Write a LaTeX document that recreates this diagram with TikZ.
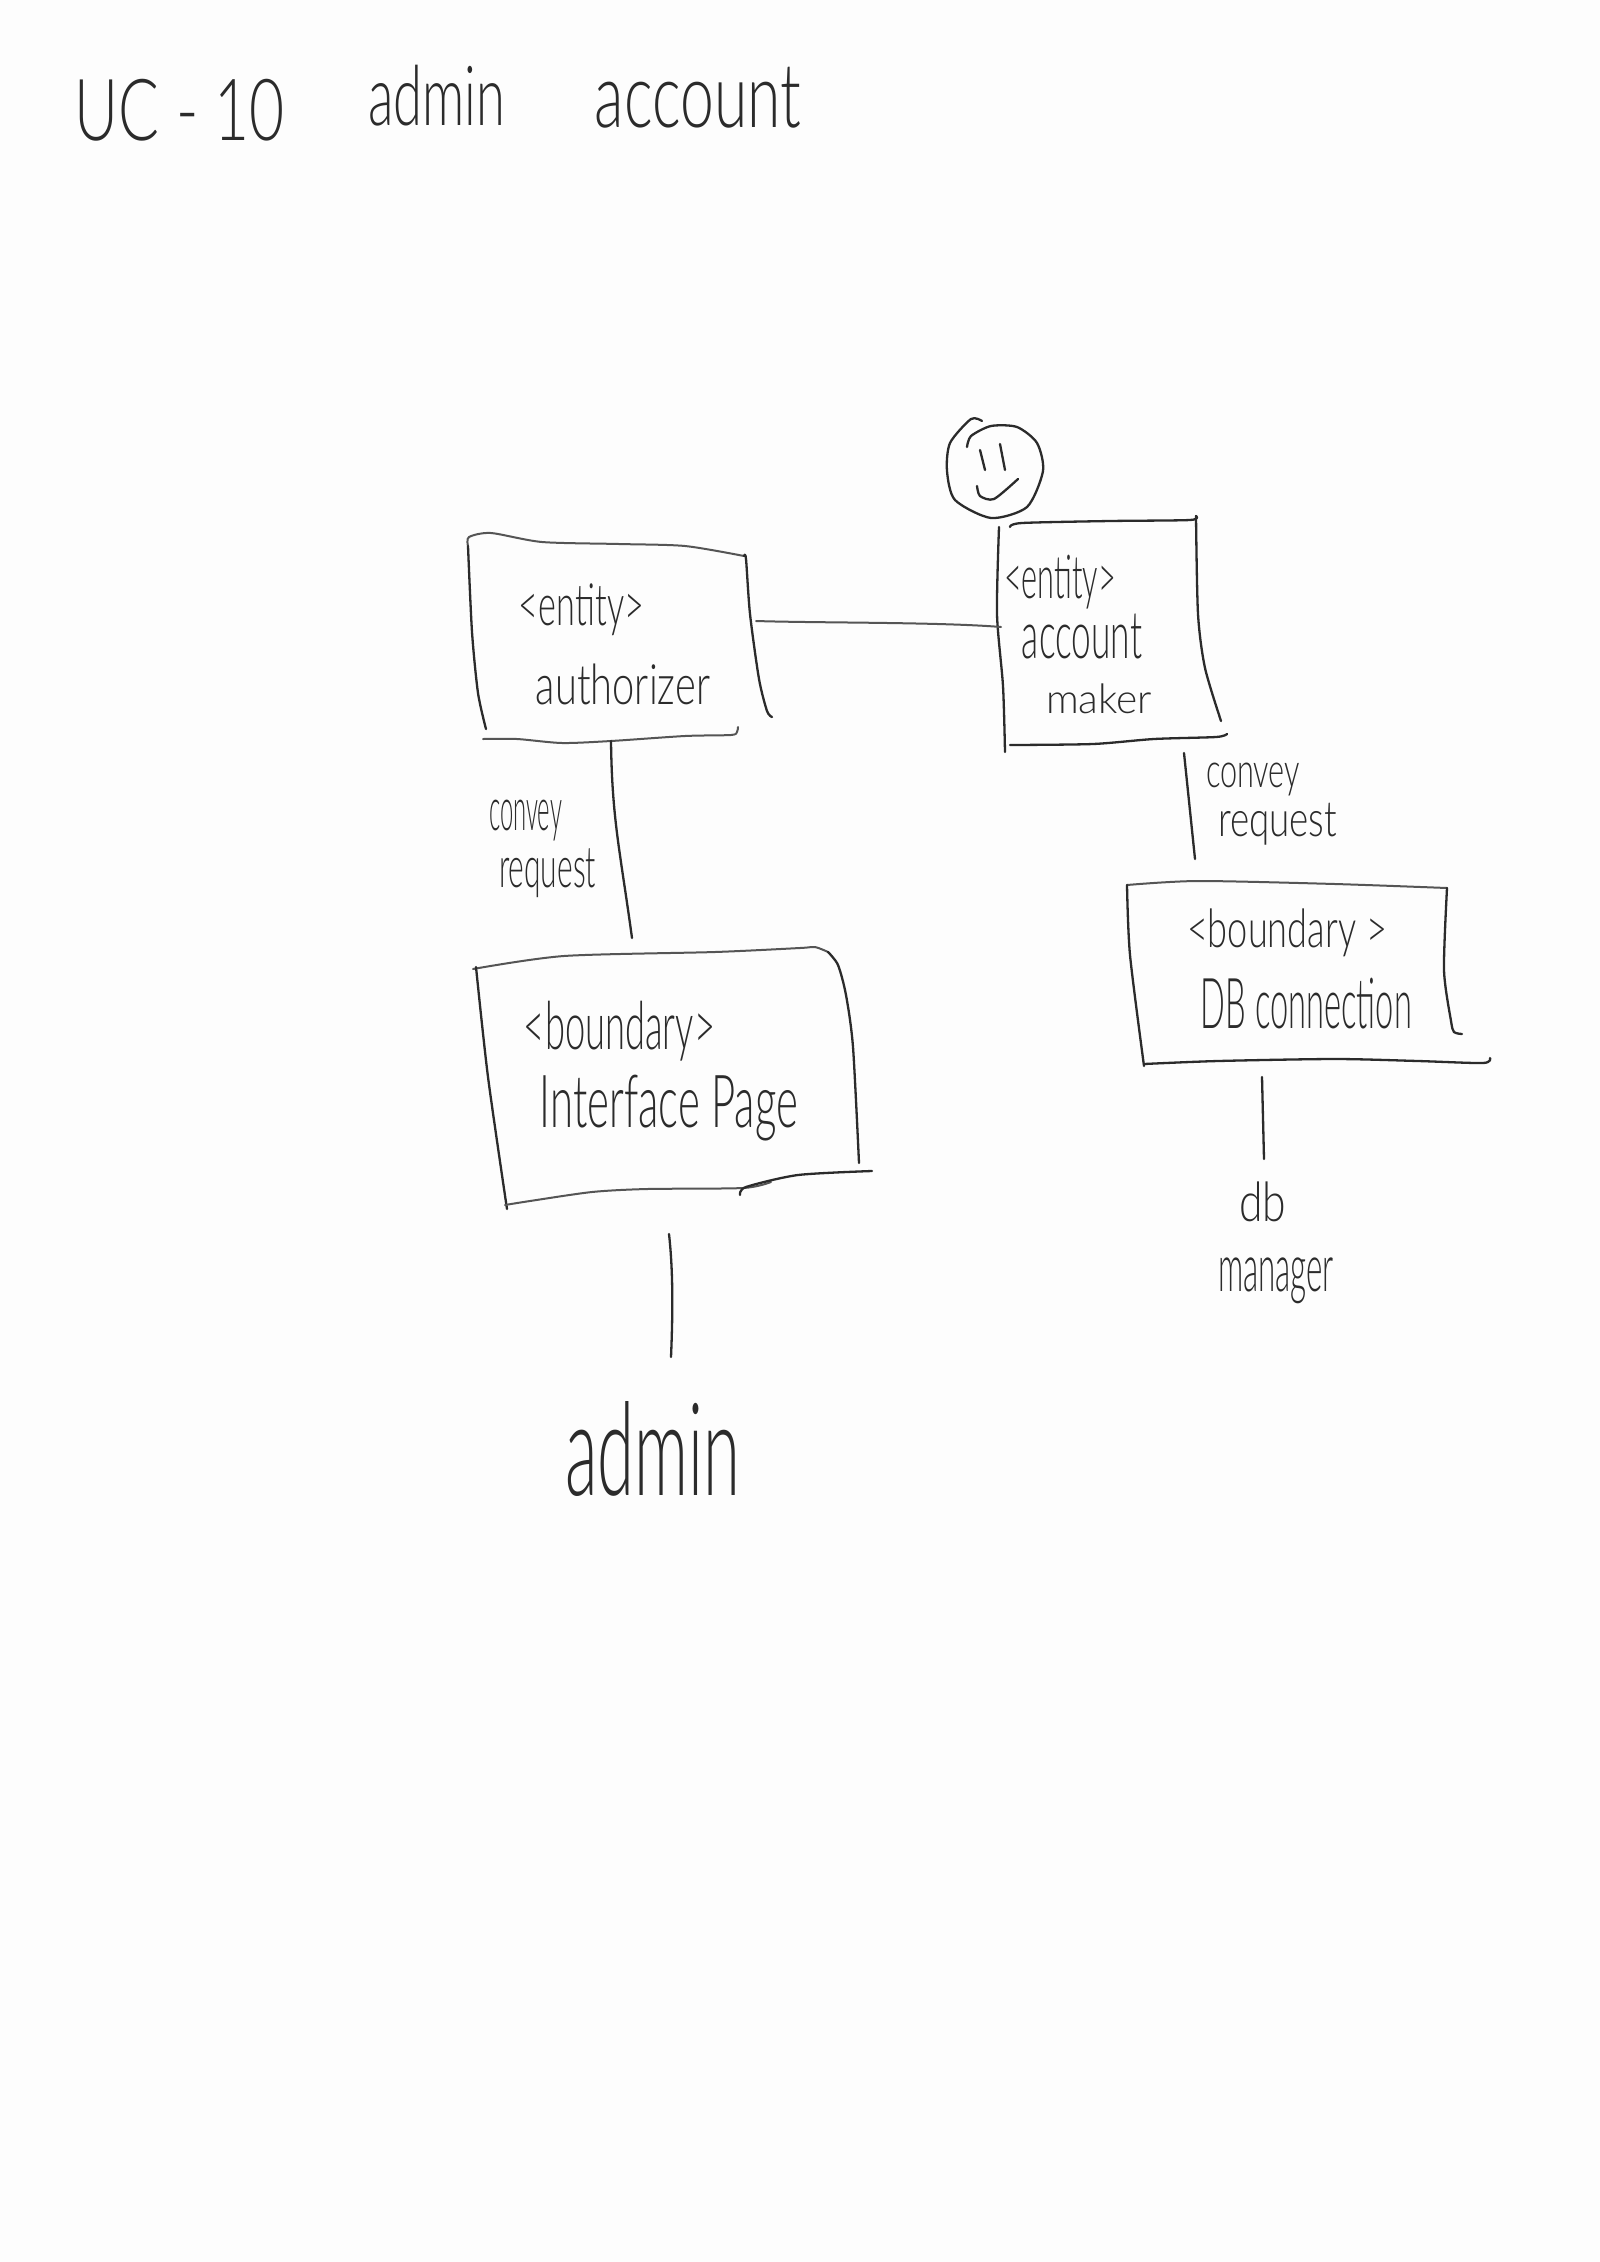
\documentclass[tikz,border=0pt]{standalone}
\usepackage{fontspec}
\usepackage{graphicx}
\setmainfont{Lato Light}
\definecolor{ink}{HTML}{2B2B2B}
\definecolor{inkgrey}{HTML}{555555}
\definecolor{paper}{HTML}{FDFDFD}
\tikzset{
  pen/.style={draw=ink,line width=2.3pt,line cap=round,line join=round},
  palepen/.style={draw=inkgrey,line width=2pt,line cap=round,line join=round},
  inktext/.style={inner sep=0pt,outer sep=0pt,text=ink}
}
\newcommand{\hw}[7][]{%
  \pgfmathsetmacro\hwx{(#3+#5)/2}\pgfmathsetmacro\hwy{(#4+#6)/2}%
  \pgfmathsetmacro\hww{#5-#3}\pgfmathsetmacro\hwh{#6-#4}%
  \node[inktext,#1] (#2) at (\hwx,\hwy) {\resizebox*{\hww pt}{\hwh pt}{#7}};}
\newcommand{\stroke}[2][pen]{\draw[#1] plot[smooth,tension=0.45] coordinates {#2};}
\begin{document}
\begin{tikzpicture}[x=1pt,y=-1pt]
\useasboundingbox (0,0) rectangle (1600,2262);
\fill[paper] (0,0) rectangle (1600,2262);

% title
\hw{titleA}{75}{79}{285}{141}{UC - 10}
\hw{titleB}{368}{65}{505}{126}{admin}
\hw{titleC}{595}{67}{801}{128}{account}

% authorizer box
\stroke[palepen]{(468,546) (469,537) (491,533) (542,542) (619,544) (685,546) (744,556)}
\stroke{(744,556) (746,559) (750,614) (759,679) (767,711) (772,717)}
\stroke{(468,546) (472,632) (478,693) (486,729)}
\stroke[palepen]{(483,739) (517,739) (562,743) (611,741) (685,736) (731,735) (737,732) (738,727)}
\hw{authA}{519}{584}{644}{636}{<entity>}
\hw{authB}{536}{664}{710}{705}{authorizer}

% account maker box and smiley
\stroke{(999,527) (997,614) (1003,686) (1005,752)}
\stroke{(1010,527) (1022,523) (1110,521) (1190,520) (1196,516)}
\stroke{(1196,516) (1198,614) (1205,668) (1221,721)}
\stroke{(1010,745) (1093,744) (1154,739) (1216,737) (1227,734)}
\hw{makerA}{1004}{555}{1116}{609}{<entity>}
\hw{makerB}{1022}{614}{1142}{659}{account}
\hw{makerC}{1046}{684}{1152}{714}{maker}
\stroke{(982,421) (971,419) (950,443) (947,471) (955,500) (991,518) (1027,507) (1043,471) (1037,443) (1017,427) (991,426) (971,436) (967,447)}
\stroke{(980,450) (985,470)}
\stroke{(1000,444) (1005,470)}
\stroke{(977,486) (980,496) (994,499) (1018,479)}

% interface page box
\stroke[palepen]{(473,969) (564,956) (715,952) (800,948) (815,947) (828,952)}
\stroke{(828,952) (838,965) (846,995) (853,1047) (859,1163)}
\stroke{(476,967) (488,1077) (507,1209)}
\stroke[palepen]{(505,1205) (530,1201) (592,1192) (647,1189) (743,1188) (771,1182)}
\stroke{(740,1195) (746,1187) (798,1175) (872,1171)}
\hw{ifaceA}{524}{1001}{715}{1061}{<boundary>}
\hw{ifaceB}{540}{1075}{798}{1141}{Interface Page}

% DB connection box
\stroke[palepen]{(1127,885) (1198,881) (1335,884) (1447,888)}
\stroke{(1447,888) (1444,970) (1451,1021) (1454,1032) (1462,1034)}
\stroke{(1127,885) (1130,955) (1144,1066)}
\stroke{(1144,1064) (1218,1061) (1335,1059) (1418,1061) (1483,1063) (1490,1058)}
\hw{dbA}{1187}{909}{1387}{957}{<boundary >}
\hw{dbB}{1201}{978}{1412}{1029}{DB connection}

% connector end points
\coordinate (authE) at (756,621);
\coordinate (makerW) at (1001,627);
\coordinate (authS) at (611,741);
\coordinate (ifaceN) at (632,938);
\coordinate (ifaceS) at (669,1234);
\coordinate (adminN) at (671,1357);
\coordinate (makerS) at (1184,753);
\coordinate (dbN) at (1195,859);
\coordinate (dbS) at (1262,1077);
\coordinate (managerN) at (1264,1159);

% connectors
\draw[palepen] (authE) .. controls (818,623) and (940,622) .. (makerW);
\draw[pen] (authS) .. controls (612,820) and (620,850) .. (ifaceN);
\draw[pen] (ifaceS) .. controls (673,1270) and (673,1310) .. (adminN);
\draw[pen] (makerS) -- (dbN);
\draw[pen] (dbS) -- (managerN);

% labels
\hw{conveyL}{489}{800}{562}{841}{convey}
\hw{requestL}{499}{849}{596}{898}{request}
\hw{conveyR}{1206}{763}{1300}{796}{convey}
\hw{requestR}{1218}{803}{1337}{845}{request}
\hw{dbLabel}{1239}{1182}{1286}{1222}{db}
\hw{managerLabel}{1218}{1258}{1334}{1304}{manager}
\hw{adminLabel}{565}{1401}{740}{1496}{admin}
\end{tikzpicture}
\end{document}
